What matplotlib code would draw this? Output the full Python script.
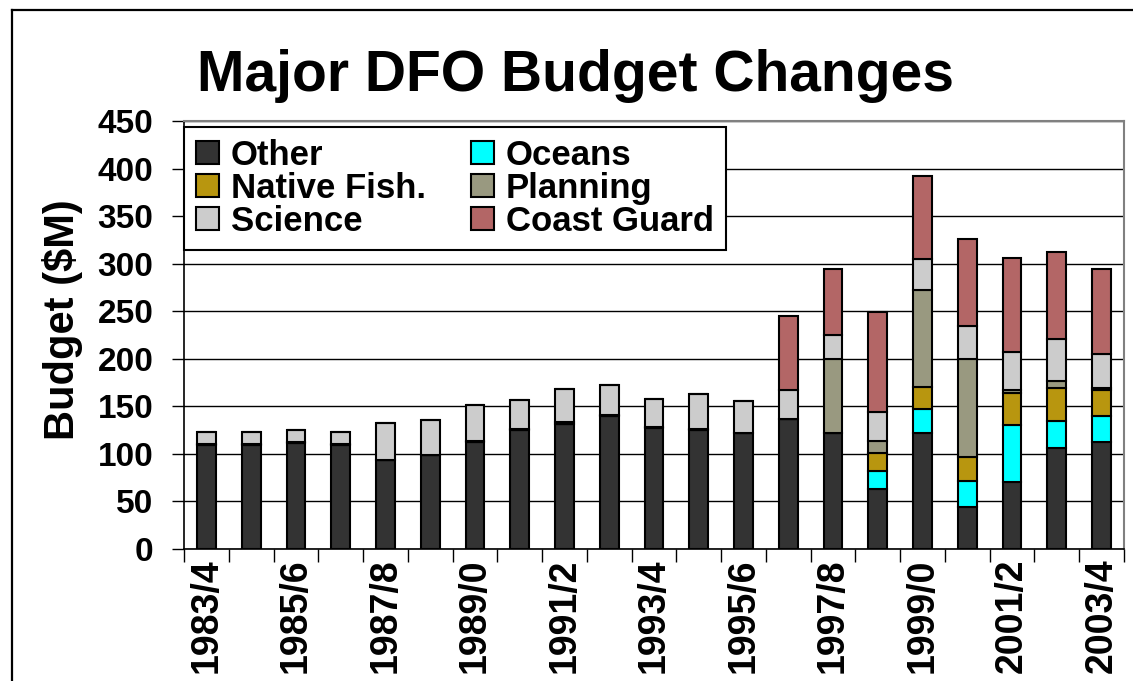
import matplotlib
matplotlib.use("Agg")
import matplotlib.pyplot as plt
import numpy as np
from matplotlib.lines import Line2D

plt.rcParams['font.family'] = ['Liberation Sans', 'DejaVu Sans']
plt.rcParams['font.weight'] = 'bold'

# fiscal years, one bar each
years = ['1983/4', '1984/5', '1985/6', '1986/7', '1987/8', '1988/9', '1989/0',
         '1990/1', '1991/2', '1992/3', '1993/4', '1994/5', '1995/6', '1996/7',
         '1997/8', '1998/9', '1999/0', '2000/1', '2001/2', '2002/3', '2003/4']

# budget pieces ($M), bottom to top
other = [109, 109, 111, 109, 94, 99, 113, 125, 131, 140, 127, 125, 122, 137,
         122, 63, 122, 44, 70, 106, 112]
oceans = [0, 0, 0, 0, 0, 0, 0, 0, 0, 0, 0, 0, 0, 0,
          0, 19, 25, 27, 60, 29, 28]
native = [1, 1, 1, 1, 0, 0, 1, 1, 0, 1, 1, 1, 0, 0,
          0, 19, 23, 26, 34, 34, 27]
planning = [0, 0, 0, 0, 0, 0, 0, 0, 3, 0, 0, 0, 0, 0,
            78, 13, 102, 103, 3, 8, 2]
science = [13, 13, 13, 13, 38, 37, 37, 31, 34, 31, 30, 37, 34, 30,
           25, 30, 33, 34, 40, 44, 36]
coast_guard = [0, 0, 0, 0, 0, 0, 0, 0, 0, 0, 0, 0, 0, 78,
               69, 105, 87, 92, 99, 91, 89]

series = [('Other', other, '#333333'),
          ('Oceans', oceans, '#00FFFF'),
          ('Native Fish.', native, '#B8960F'),
          ('Planning', planning, '#999980'),
          ('Science', science, '#CCCCCC'),
          ('Coast Guard', coast_guard, '#B36666')]

fig = plt.figure(figsize=(11.33, 6.81), dpi=100)
ax = fig.add_axes([184 / 1133, 132 / 681, 940 / 1133, 428 / 681])

x = np.arange(len(years))
bottom = np.zeros(len(years))
bars = {}
for name, vals, col in series:
    vals = np.array(vals, dtype=float)
    bars[name] = ax.bar(x, vals, 0.42, bottom=bottom, color=col,
                        edgecolor='black', linewidth=1.5, zorder=3)
    bottom += vals

ax.set_xlim(-0.5, len(years) - 0.5)
ax.set_ylim(0, 450)
ax.set_yticks(np.arange(0, 451, 50))
ax.yaxis.grid(True, color='black', linewidth=1.0, zorder=0)

# ticks between bars, labels on every other bar
ax.set_xticks(np.arange(-0.5, len(years), 1.0))
ax.set_xticklabels([])
ax.set_xticks(x[::2], minor=True)
ax.set_xticklabels(years[::2], minor=True, rotation=90, fontsize=27,
                   fontweight='bold', va='top')
ax.tick_params(axis='x', which='major', direction='out', length=9, width=1)
ax.tick_params(axis='x', which='minor', length=0, pad=7)
ax.tick_params(axis='y', direction='out', length=9, width=1, labelsize=24, pad=13)
for lab in ax.get_yticklabels():
    lab.set_fontweight('bold')

ax.spines['top'].set_color('#808080')
ax.spines['right'].set_color('#808080')
ax.spines['top'].set_linewidth(1.5)
ax.spines['right'].set_linewidth(1.5)
ax.spines['left'].set_linewidth(1.2)
ax.spines['bottom'].set_linewidth(1.2)

ax.set_ylabel('Budget ($M)', fontsize=30, fontweight='bold')
ax.yaxis.set_label_coords(-0.107, 0.535)

order = ['Other', 'Native Fish.', 'Science', 'Oceans', 'Planning', 'Coast Guard']
leg = ax.legend([bars[n] for n in order], order, loc='upper left',
                bbox_to_anchor=(0.0, 0.987), ncol=2, fontsize=25,
                handlelength=0.65, handleheight=0.65, handletextpad=0.35,
                columnspacing=1.3, labelspacing=0.0, borderpad=0.35,
                borderaxespad=0.0, fancybox=False, framealpha=1,
                edgecolor='black')
leg.get_frame().set_linewidth(1.5)
leg.set_zorder(5)
for t in leg.get_texts():
    t.set_fontweight('bold')

fig.text(0.508, 0.866, 'Major DFO Budget Changes', fontsize=41,
         fontweight='bold', ha='center', va='baseline')

# outer slide frame (left and top edges only visible)
fig.add_artist(Line2D([12 / 1133, 12 / 1133], [0, 1 - 10 / 681],
                      transform=fig.transFigure, color='black', linewidth=1.6))
fig.add_artist(Line2D([12 / 1133, 1], [1 - 10 / 681, 1 - 10 / 681],
                      transform=fig.transFigure, color='black', linewidth=1.6))

fig.savefig('out.png', dpi=100)
